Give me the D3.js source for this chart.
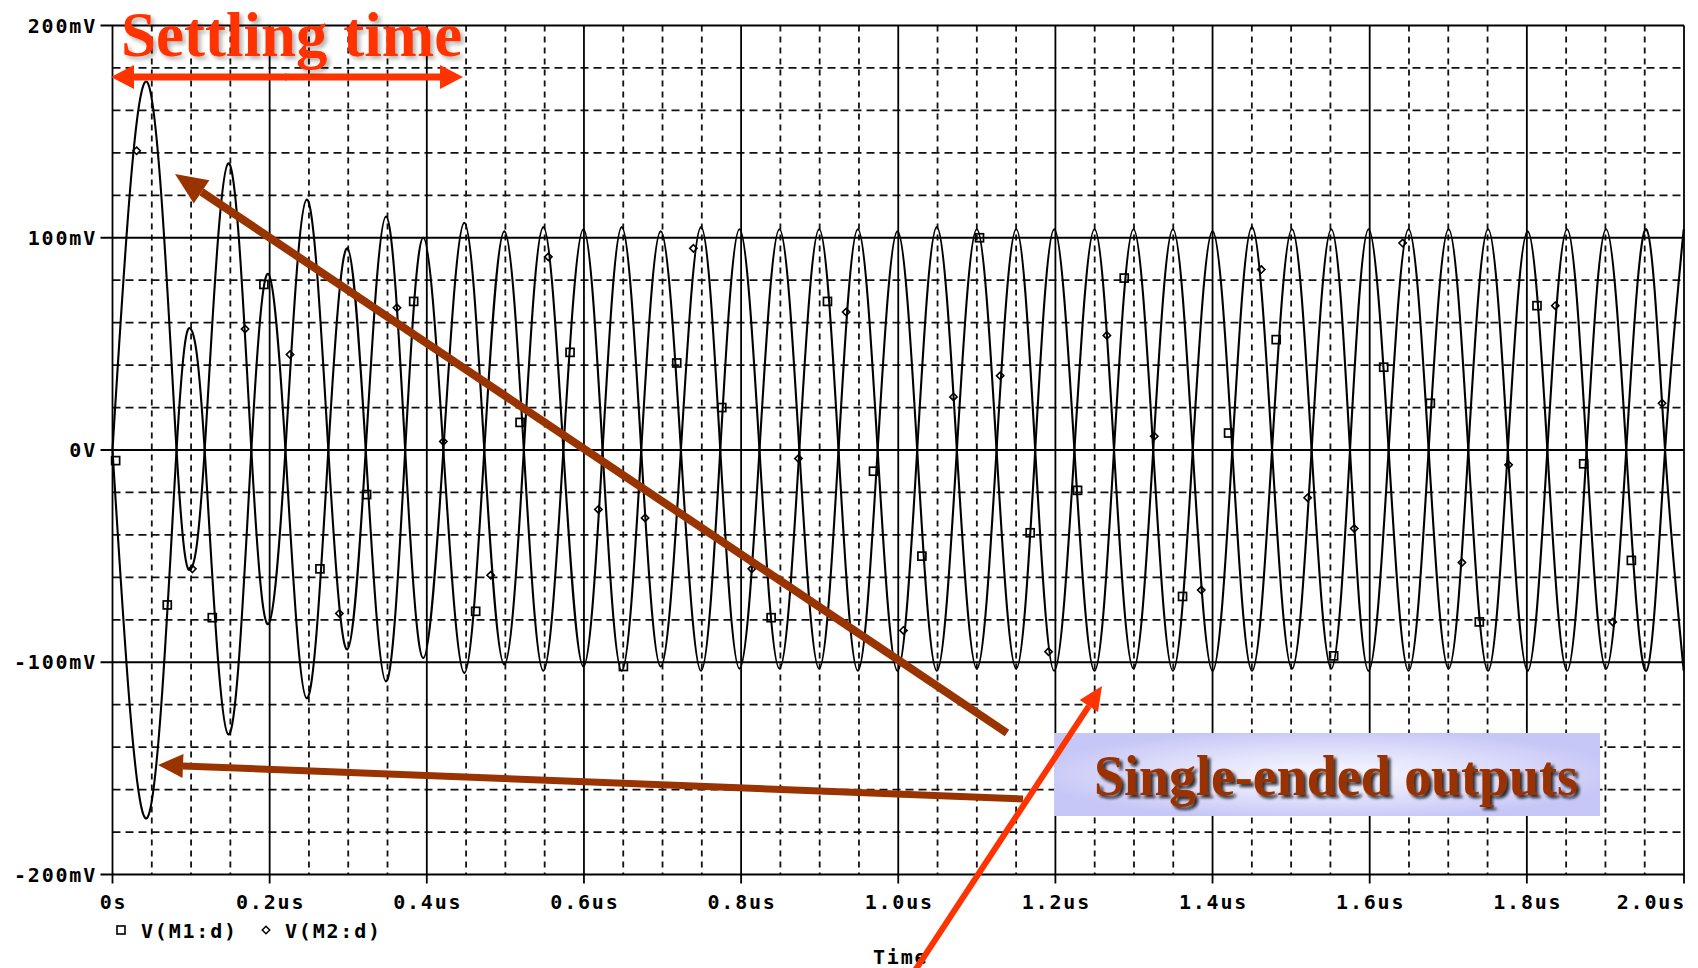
<!DOCTYPE html>
<html>
<head>
<meta charset="utf-8">
<script src="https://cdn.jsdelivr.net/npm/d3@7"></script>
<style>
  body { margin: 0; background: #fff; }
  svg { display: block; }
</style>
</head>
<body>
<div id="chart"></div>
<script>
// axis ticks
const xTicks = [0, 0.2, 0.4, 0.6, 0.8, 1.0, 1.2, 1.4, 1.6, 1.8, 2.0];
const xTickLabels = ["0s", "0.2us", "0.4us", "0.6us", "0.8us", "1.0us", "1.2us", "1.4us", "1.6us", "1.8us", "2.0us"];
const yTicks = [200, 100, 0, -100, -200];
const yTickLabels = ["200mV", "100mV", "0V", "-100mV", "-200mV"];

// time of each half-cycle extreme (us)
const peakTimes = [0.0447, 0.0998, 0.1473, 0.1983, 0.2471, 0.2988, 0.3480, 0.3956, 0.4477, 0.4987,
  0.5483, 0.5993, 0.6481, 0.6977, 0.7490, 0.7980, 0.8488, 0.8993, 0.9486, 0.9990,
  1.0491, 1.1000, 1.1501, 1.1985, 1.2498, 1.2994, 1.3496, 1.4000, 1.4502, 1.5011,
  1.5511, 1.5986, 1.6495, 1.7004, 1.7506, 1.8010, 1.8512, 1.9008, 1.9521, 1.9996];
// where the two traces cross 0V
const crossTimes = [0.0815, 0.1173, 0.1767, 0.2201, 0.2747, 0.3223, 0.3725, 0.4211, 0.4732, 0.5235,
  0.5738, 0.6237, 0.6729, 0.7234, 0.7735, 0.8234, 0.8741, 0.9240, 0.9738, 1.0241,
  1.0746, 1.1251, 1.1743, 1.2242, 1.2746, 1.3245, 1.3748, 1.4251, 1.4757, 1.5261,
  1.5749, 1.6241, 1.6750, 1.7255, 1.7758, 1.8261, 1.8760, 1.9265, 1.9759];

// extreme values in mV
const m1Peaks = [-173, 57, -134, 83, -117, 95, -109, 100, -105, 103,
  -104, 104, -104, 103, -104, 104, -103, 104, -104, 103,
  -104, 104, -103, 104, -104, 104, -104, 103, -104, 104,
  -103, 104, -104, 104, -104, 103, -104, 104, -104, 104];
const m2Peaks = [173, -56, 135, -82, 118, -94, 110, -98, 107, -101,
  105, -102, 105, -102, 105, -103, 104, -103, 104, -104,
  105, -103, 104, -104, 104, -103, 104, -104, 105, -103,
  104, -104, 104, -103, 104, -104, 104, -103, 104, -104];

// trace markers [time us, mV]
const m1Markers = [[0.004, -5], [0.0697, -73], [0.127, -79], [0.1927, 78], [0.264, -56], [0.3234, -21],
  [0.3833, 70], [0.4622, -76], [0.5187, 13], [0.5823, 46], [0.6502, -102], [0.7181, 41],
  [0.7754, 20], [0.8382, -79], [0.9099, 70], [0.9685, -10], [1.0301, -50], [1.1034, 100],
  [1.1679, -39], [1.2282, -19], [1.2876, 81], [1.3618, -69], [1.4204, 8], [1.481, 52],
  [1.5541, -97], [1.6178, 39], [1.6772, 22], [1.7395, -81], [1.8129, 68], [1.8723, -6.5],
  [1.933, -52]];
const m2Markers = [[0.0307, 141], [0.1016, -56], [0.1687, 57], [0.2259, 45], [0.2887, -77], [0.362, 67],
  [0.421, 4], [0.4813, -59], [0.5547, 91], [0.6184, -28], [0.6778, -32], [0.7393, 95],
  [0.8136, -56], [0.873, -4], [0.9337, 65], [1.0066, -85], [1.0703, 25], [1.1297, 35],
  [1.1913, -95], [1.2655, 54], [1.3258, 6.5], [1.3856, -66], [1.462, 85], [1.521, -22.5],
  [1.5803, -37], [1.6419, 97.5], [1.7174, -53], [1.7768, -7], [1.8362, 68], [1.9093, -81],
  [1.9721, 22]];

const legendNames = ["V(M1:d)", "V(M2:d)"];

const W = 1698, H = 968;
const svg = d3.select("#chart").append("svg").attr("width", W).attr("height", H);

const defs = svg.append("defs");
const sh1 = defs.append("filter").attr("id", "shadowLight").attr("x", "-10%").attr("y", "-20%").attr("width", "130%").attr("height", "150%");
sh1.append("feDropShadow").attr("dx", 3).attr("dy", 3).attr("stdDeviation", 2).attr("flood-color", "#000").attr("flood-opacity", 0.3);
const sh2 = defs.append("filter").attr("id", "shadowDark").attr("x", "-10%").attr("y", "-20%").attr("width", "130%").attr("height", "150%");
sh2.append("feDropShadow").attr("dx", 3).attr("dy", 3).attr("stdDeviation", 1.5).attr("flood-color", "#111").attr("flood-opacity", 0.85);
const glow = defs.append("radialGradient").attr("id", "boxGlow").attr("cx", "50%").attr("cy", "50%").attr("r", "55%");
glow.append("stop").attr("offset", "0%").attr("stop-color", "#f8f8ff");
glow.append("stop").attr("offset", "45%").attr("stop-color", "#e4e4fc");
glow.append("stop").attr("offset", "100%").attr("stop-color", "#c6c6f7");

const x = d3.scaleLinear().domain([0, 2.0]).range([112.5, 1684]);
const y = d3.scaleLinear().domain([-200, 200]).range([874.5, 25.5]);

const monoFont = "'DejaVu Sans Mono', 'Liberation Mono', monospace";

// grid: dashed minor lines first, solid major lines on top
const grid = svg.append("g");
const minorX = d3.range(1, 40).map(i => i * 0.05).filter(t => Math.abs(t / 0.2 - Math.round(t / 0.2)) > 1e-6);
const minorY = d3.range(-9, 10).map(i => i * 20).filter(v => v % 100 !== 0);

grid.selectAll(".vminor").data(minorX).join("line")
  .attr("x1", d => x(d)).attr("x2", d => x(d))
  .attr("y1", y(200)).attr("y2", y(-200))
  .attr("stroke", "#111").attr("stroke-width", 1.8)
  .attr("stroke-dasharray", "6,5");

grid.selectAll(".hminor").data(minorY).join("line")
  .attr("x1", x(0)).attr("x2", x(2.0))
  .attr("y1", d => y(d)).attr("y2", d => y(d))
  .attr("stroke", "#111").attr("stroke-width", 1.8)
  .attr("stroke-dasharray", "8,5");

grid.selectAll(".vmajor").data(xTicks).join("line")
  .attr("x1", d => x(d)).attr("x2", d => x(d))
  .attr("y1", y(200)).attr("y2", y(-200) + 9)
  .attr("stroke", "#000").attr("stroke-width", 1.8);

grid.selectAll(".hmajor").data(yTicks).join("line")
  .attr("x1", x(0) - 12).attr("x2", x(2.0))
  .attr("y1", d => y(d)).attr("y2", d => y(d))
  .attr("stroke", "#000").attr("stroke-width", 1.8);

// tick labels
svg.append("g").selectAll("text").data(yTicks).join("text")
  .attr("x", 97).attr("y", d => y(d))
  .attr("dy", "0.36em")
  .attr("text-anchor", "end")
  .style("font-family", monoFont).style("font-weight", "bold")
  .style("font-size", "20px").style("letter-spacing", "1.8px")
  .text((d, i) => yTickLabels[i]);

svg.append("g").selectAll("text").data(xTicks).join("text")
  .attr("x", (d, i) => i === xTicks.length - 1 ? x(d) + 2 : x(d) + 1)
  .attr("y", 902)
  .attr("dy", "0.36em")
  .attr("text-anchor", (d, i) => i === xTicks.length - 1 ? "end" : "middle")
  .style("font-family", monoFont).style("font-weight", "bold")
  .style("font-size", "20px").style("letter-spacing", "1.8px")
  .text((d, i) => xTickLabels[i]);

// traces
function tracePoints(peaks) {
  let pts = [[0, 0]];
  peaks.forEach((v, k) => {
    pts.push([peakTimes[k], v]);
    if (k < crossTimes.length) pts.push([crossTimes[k], 0]);
  });
  return pts;
}

const line = d3.line()
  .x(d => x(d[0]))
  .y(d => y(d[1]))
  .curve(d3.curveNatural);

const traces = svg.append("g");
[m1Peaks, m2Peaks].forEach(p => {
  traces.append("path")
    .attr("d", line(tracePoints(p)))
    .attr("fill", "none")
    .attr("stroke", "#000")
    .attr("stroke-width", 2.1);
});

// markers
const sq = 8;
traces.selectAll(".m1").data(m1Markers).join("rect")
  .attr("x", d => x(d[0]) - sq / 2).attr("y", d => y(d[1]) - sq / 2)
  .attr("width", sq).attr("height", sq)
  .attr("fill", "none").attr("stroke", "#000").attr("stroke-width", 1.7);

const diamond = d3.symbol().type(d3.symbolDiamond2).size(34);
traces.selectAll(".m2").data(m2Markers).join("path")
  .attr("d", diamond)
  .attr("transform", d => "translate(" + x(d[0]) + "," + y(d[1]) + ")")
  .attr("fill", "none").attr("stroke", "#000").attr("stroke-width", 1.6);

// legend
const legend = svg.append("g").style("font-family", monoFont).style("font-weight", "bold")
  .style("font-size", "20px").style("letter-spacing", "1.8px");
legend.append("rect").attr("x", 117).attr("y", 926).attr("width", 8).attr("height", 8)
  .attr("fill", "none").attr("stroke", "#000").attr("stroke-width", 1.6);
legend.append("text").attr("x", 141).attr("y", 931).attr("dy", "0.36em").text(legendNames[0]);
legend.append("path").attr("d", d3.symbol().type(d3.symbolDiamond2).size(36))
  .attr("transform", "translate(266,930)")
  .attr("fill", "none").attr("stroke", "#000").attr("stroke-width", 1.5);
legend.append("text").attr("x", 285).attr("y", 931).attr("dy", "0.36em").text(legendNames[1]);
legend.append("text").attr("x", 873).attr("y", 957).attr("dy", "0.36em").text("Time");

// annotations
const notes = svg.append("g");

function arrow(g, x1, y1, x2, y2, color, width, headLen, headHalf) {
  const ang = Math.atan2(y2 - y1, x2 - x1);
  const bx = x2 - headLen * Math.cos(ang), by = y2 - headLen * Math.sin(ang);
  g.append("line").attr("x1", x1).attr("y1", y1).attr("x2", bx).attr("y2", by)
    .attr("stroke", color).attr("stroke-width", width);
  const px = -Math.sin(ang) * headHalf, py = Math.cos(ang) * headHalf;
  g.append("path")
    .attr("d", `M${x2},${y2}L${bx + px},${by + py}L${bx - px},${by - py}Z`)
    .attr("fill", color);
}

// settling time double arrow
arrow(notes, 287, 77, 111, 77, "#ff3300", 7, 23, 12);
arrow(notes, 285, 77, 463, 77, "#ff3300", 7, 23, 12);

notes.append("text")
  .attr("x", 121).attr("y", 56)
  .style("font-family", "'Liberation Serif', 'Times New Roman', serif")
  .style("font-weight", "bold").style("font-size", "63px")
  .attr("fill", "#ff3300")
  .attr("filter", "url(#shadowLight)")
  .text("Settling time");

// single-ended outputs box
notes.append("rect")
  .attr("x", 1054).attr("y", 733).attr("width", 546).attr("height", 83)
  .attr("fill", "url(#boxGlow)");
notes.append("text")
  .attr("x", 1094).attr("y", 795)
  .attr("textLength", 484).attr("lengthAdjust", "spacingAndGlyphs")
  .style("font-family", "'Liberation Serif', 'Times New Roman', serif")
  .style("font-weight", "bold").style("font-size", "56px")
  .attr("fill", "#993300")
  .attr("filter", "url(#shadowDark)")
  .text("Single-ended outputs");

arrow(notes, 1007, 733, 175, 174, "#993300", 8, 32, 14);
arrow(notes, 1023, 799, 158, 765, "#993300", 7, 25, 12);
arrow(notes, 914, 972, 1102, 686, "#ff3300", 6, 24, 11);
</script>
</body>
</html>
